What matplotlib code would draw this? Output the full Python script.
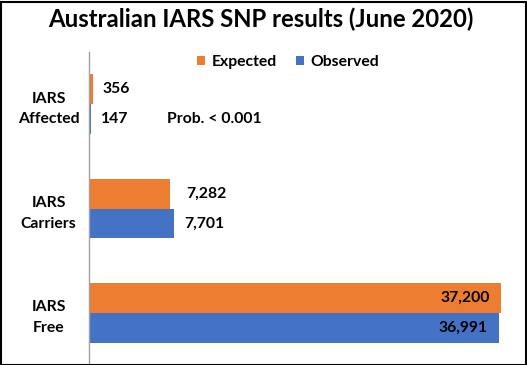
import matplotlib.pyplot as plt
from matplotlib.patches import Rectangle

# Chart values
categories = ['IARS\nAffected', 'IARS\nCarriers', 'IARS\nFree']
expected = [356, 7282, 37200]
observed = [147, 7701, 36991]
series_names = ['Expected', 'Observed']
colors = ['#ED7D31', '#4472C4']

plt.rcParams['font.family'] = ['Lato', 'DejaVu Sans']
plt.rcParams['font.weight'] = 'bold'

fig = plt.figure(figsize=(5.27, 3.65), dpi=100)
W, H = 527, 365

# plot area in pixels: left 89, right 512, top 52, bottom 365
ax = fig.add_axes([89 / W, 0 / H, (512 - 89) / W, (365 - 52) / H])
xmax = 37200 * (512 - 89) / 412

ypos = list(range(len(categories)))
h = 0.285
ax.barh([y - h / 2 for y in ypos], expected, height=h, color=colors[0], label=series_names[0])
ax.barh([y + h / 2 for y in ypos], observed, height=h, color=colors[1], label=series_names[1])

fs = 11.3
ax.set_xlim(0, xmax)
ax.set_ylim(2.5, -0.5)
ax.set_xticks([])
ax.set_yticks(ypos)
ax.set_yticklabels(categories, fontsize=fs, fontweight='bold', linespacing=1.6, ha='center')
ax.tick_params(axis='y', length=0, pad=29)
for s in ['top', 'right', 'bottom']:
    ax.spines[s].set_visible(False)
ax.spines['left'].set_color('#A0A0A0')
ax.spines['left'].set_linewidth(1.0)

# value labels
exp_off = [10, 17]
obs_off = [10, 10]
for i in ypos:
    if i < 2:
        ax.annotate(f'{expected[i]:,}', (expected[i], i - h / 2), xytext=(exp_off[i] * 0.72, 0),
                    textcoords='offset points', va='center', ha='left', fontsize=fs, fontweight='bold')
        ax.annotate(f'{observed[i]:,}', (observed[i], i + h / 2), xytext=(obs_off[i] * 0.72, 0),
                    textcoords='offset points', va='center', ha='left', fontsize=fs, fontweight='bold')
    else:
        ax.annotate(f'{expected[i]:,}', (expected[i], i - h / 2), xytext=(-8, 0),
                    textcoords='offset points', va='center', ha='right', fontsize=fs, fontweight='bold')
        ax.annotate(f'{observed[i]:,}', (observed[i], i + h / 2), xytext=(-8, 0),
                    textcoords='offset points', va='center', ha='right', fontsize=fs, fontweight='bold')

ax.text(7050, h / 2, 'Prob. < 0.001', va='center', ha='left', fontsize=fs, fontweight='bold')

fig.text(0.495, 1 - 19 / H, 'Australian IARS SNP results (June 2020)', ha='center', va='center',
         fontsize=17.2, fontweight='bold')

leg = fig.legend(loc='center', bbox_to_anchor=(288 / W, 1 - 62 / H), ncol=2, frameon=False,
                 fontsize=fs, handlelength=0.55, handleheight=0.55, handletextpad=0.4, columnspacing=1.2)
for t in leg.get_texts():
    t.set_fontweight('bold')

fig.patches.append(Rectangle((0.5 / W, 0.5 / H), 1 - 2 / W, 1 - 2 / H, transform=fig.transFigure,
                             fill=False, edgecolor='black', linewidth=1.5))

fig.savefig('out.png', dpi=100)
